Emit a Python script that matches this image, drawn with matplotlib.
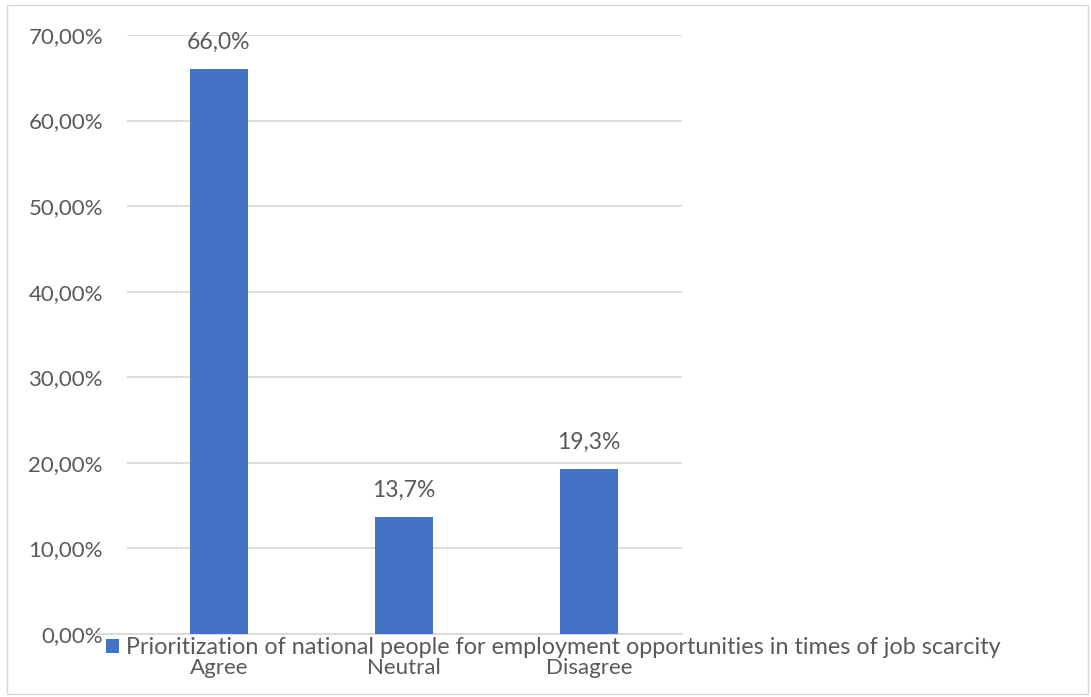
import matplotlib
matplotlib.use("Agg")
import matplotlib.pyplot as plt
from matplotlib.patches import Rectangle, Patch
import matplotlib.ticker as mticker

categories = ["Agree", "Neutral", "Disagree"]
values = [0.660, 0.137, 0.193]
value_labels = ["66,0%", "13,7%", "19,3%"]
series_name = "Prioritization of national people for employment opportunities in times of job scarcity"

plt.rcParams['font.family'] = ['Lato', 'DejaVu Sans']
text_color = '#595959'
bar_color = '#4472C4'

W, H = 1091, 697
fig = plt.figure(figsize=(W / 100, H / 100), dpi=100)
ax = fig.add_axes([126.5 / W, (H - 634) / H, 555 / W, 599 / H])

x = list(range(1, len(categories) + 1))
ax.bar(x, values, width=0.314, color=bar_color, zorder=3)
for xi, v, lab in zip(x, values, value_labels):
    ax.text(xi, v + 0.019, lab, ha='center', va='bottom', fontsize=16.5, color=text_color)

ax.set_xlim(0.5, 3.5)
ax.set_ylim(0, 0.70)
ax.set_yticks([i / 10 for i in range(8)])
ax.yaxis.set_major_formatter(mticker.FuncFormatter(lambda v, p: f"{v * 100:.2f}%".replace('.', ',')))
ax.tick_params(axis='y', length=0, pad=17, labelsize=16, labelcolor=text_color)
ax.set_xticks(x)
ax.set_xticklabels(categories)
ax.tick_params(axis='x', length=0, pad=17, labelsize=16, labelcolor=text_color)
ax.grid(axis='y', color='#d9d9d9', linewidth=1.3, zorder=0)
for s in ax.spines.values():
    s.set_visible(False)
ax.axhline(0, xmin=-31 / 555, xmax=1, color='#d9d9d9', linewidth=1.3, clip_on=False, zorder=2)

handle = Patch(facecolor=bar_color)
fig.legend([handle], [series_name], loc='center left', bbox_to_anchor=(106 / W, (H - 648) / H),
           frameon=False, fontsize=16.8, labelcolor=text_color, handlelength=0.55,
           handleheight=0.55, handletextpad=0.3, borderpad=0, borderaxespad=0)

fig.patches.append(Rectangle((7 / W, 3 / H), (1088 - 7) / W, (H - 5 - 3) / H,
                             transform=fig.transFigure, fill=False, edgecolor='#d9d9d9', linewidth=1))

fig.savefig("out.png", dpi=100)
